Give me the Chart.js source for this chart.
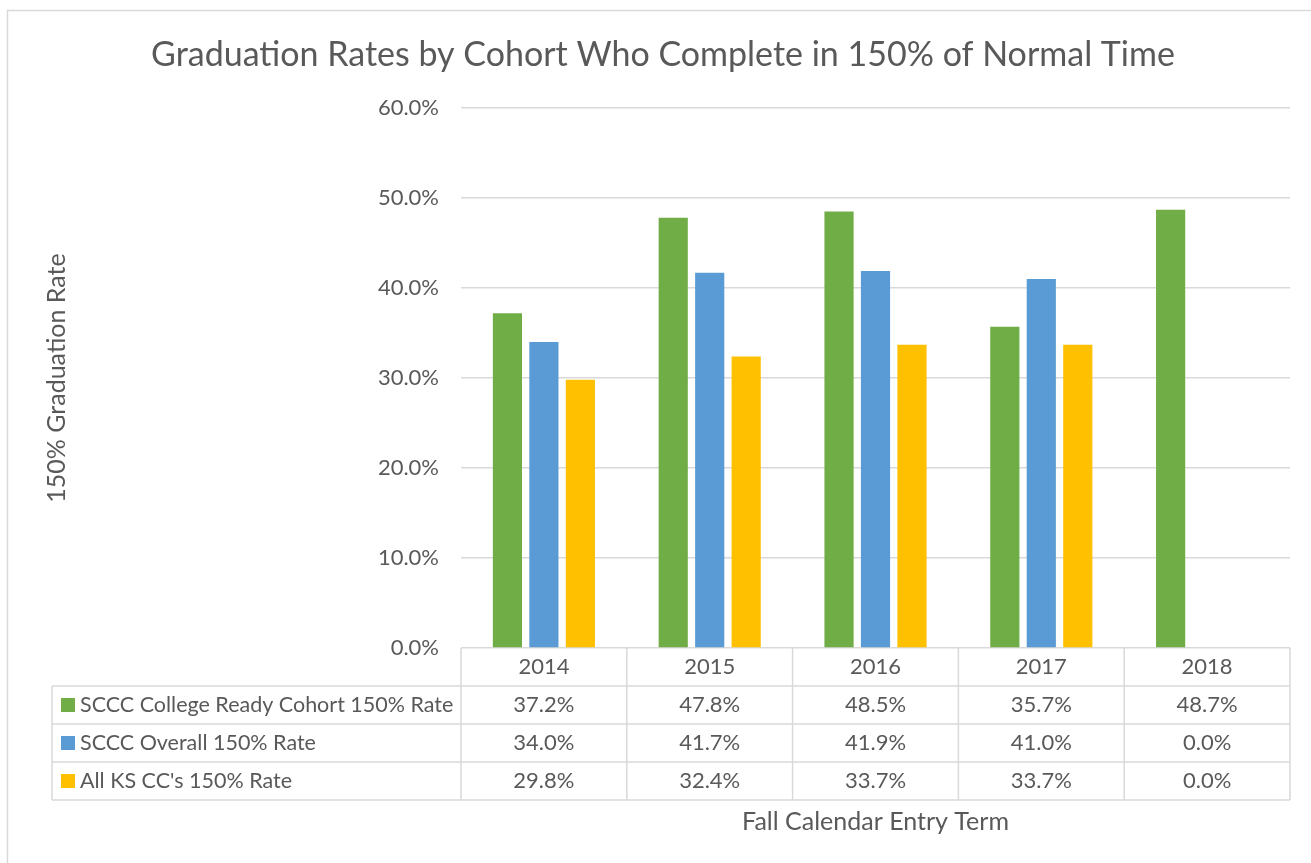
<!DOCTYPE html>
<html>
<head>
<meta charset="utf-8">
<script src="https://cdn.jsdelivr.net/npm/chart.js@4.4.1/dist/chart.umd.min.js"></script>
<style>
    html, body { margin: 0; padding: 0; background: #fff; }
    canvas { display: block; }
</style>
</head>
<body>
<canvas id="grad-chart" width="1311" height="863"></canvas>
<script>
// Дані з діаграми
const years = ['2014', '2015', '2016', '2017', '2018'];
const readyRate = [37.2, 47.8, 48.5, 35.7, 48.7];
const overallRate = [34.0, 41.7, 41.9, 41.0, 0.0];
const ksRate = [29.8, 32.4, 33.7, 33.7, 0.0];
const seriesNames = ['SCCC College Ready Cohort 150% Rate', 'SCCC Overall 150% Rate', "All KS CC's 150% Rate"];
const seriesColors = ['#70AD47', '#5B9BD5', '#FFC000'];

const FONT = 'Lato, "Open Sans", sans-serif';
const TEXT = '#595959';
const GRID = '#D9D9D9';

// Таблиця даних під графіком + заголовки
const dataTablePlugin = {
    id: 'dataTable',
    afterDraw(chart) {
        const c = chart.ctx;
        const area = chart.chartArea;
        const x = chart.scales.x;
        const colW = (area.right - area.left) / years.length;
        const rowH = 38;
        const top = area.bottom;
        const labelLeft = 52;

        c.save();
        c.strokeStyle = GRID;
        c.lineWidth = 1.5;

        // горизонтальні лінії
        c.beginPath();
        for (let r = 1; r <= 4; r++) {
            const y = top + r * rowH;
            c.moveTo(labelLeft, y);
            c.lineTo(area.right, y);
        }
        // вертикальні лінії
        c.moveTo(labelLeft, top + rowH);
        c.lineTo(labelLeft, top + 4 * rowH);
        for (let i = 0; i <= years.length; i++) {
            const vx = area.left + i * colW;
            c.moveTo(vx, top);
            c.lineTo(vx, top + 4 * rowH);
        }
        c.stroke();

        // текст
        c.fillStyle = TEXT;
        c.textBaseline = 'middle';
        c.textAlign = 'center';
        c.font = '22px ' + FONT;
        years.forEach((yr, i) => {
            c.fillText(yr, x.getPixelForTick(i), top + rowH / 2);
        });
        chart.data.datasets.forEach((ds, r) => {
            const cy = top + (r + 1.5) * rowH;
            c.font = '22px ' + FONT;
            ds.data.forEach((v, i) => {
                c.textAlign = 'center';
                c.fillText(v.toFixed(1) + '%', x.getPixelForTick(i), cy);
            });
            // ключ легенди
            c.fillStyle = ds.backgroundColor;
            c.fillRect(61, cy - 7, 14, 14);
            c.fillStyle = TEXT;
            c.textAlign = 'left';
            c.font = '21.5px ' + FONT;
            c.fillText(ds.label, 80, cy);
        });

        // заголовок
        c.font = '34px ' + FONT;
        c.textAlign = 'center';
        c.fillText('Graduation Rates by Cohort Who Complete in 150% of Normal Time', 663, 55);

        // назва осі X
        c.font = '25px ' + FONT;
        c.fillText('Fall Calendar Entry Term', (area.left + area.right) / 2, 822);

        // рамка діаграми
        c.strokeStyle = GRID;
        c.lineWidth = 1.5;
        c.strokeRect(7.5, 10.5, 1320, 880);
        c.restore();
    }
};

const ctx = document.getElementById('grad-chart');
new Chart(ctx.getContext('2d'), {
    type: 'bar',
    data: {
        labels: years,
        datasets: [
            { label: seriesNames[0], data: readyRate, backgroundColor: seriesColors[0] },
            { label: seriesNames[1], data: overallRate, backgroundColor: seriesColors[1] },
            { label: seriesNames[2], data: ksRate, backgroundColor: seriesColors[2] }
        ]
    },
    options: {
        responsive: false,
        animation: false,
        layout: {
            padding: { top: 108, left: 38, right: 21, bottom: 0 }
        },
        datasets: {
            bar: { categoryPercentage: 0.66, barPercentage: 0.8 }
        },
        plugins: {
            legend: { display: false },
            tooltip: { enabled: false }
        },
        scales: {
            x: {
                grid: { display: false },
                border: { display: false },
                ticks: { display: false },
                afterFit(scale) { scale.height = 863 - 648; }
            },
            y: {
                min: 0,
                max: 60,
                ticks: {
                    stepSize: 10,
                    padding: 22,
                    color: TEXT,
                    font: { family: FONT, size: 22 },
                    callback: v => v.toFixed(1) + '%'
                },
                grid: { color: GRID, lineWidth: 1.5, drawTicks: false },
                border: { display: false },
                title: {
                    display: true,
                    text: '150% Graduation Rate',
                    color: TEXT,
                    font: { family: FONT, size: 25 }
                },
                afterFit(scale) { scale.width = 461 - 38; }
            }
        }
    },
    plugins: [dataTablePlugin]
});
</script>
</body>
</html>
